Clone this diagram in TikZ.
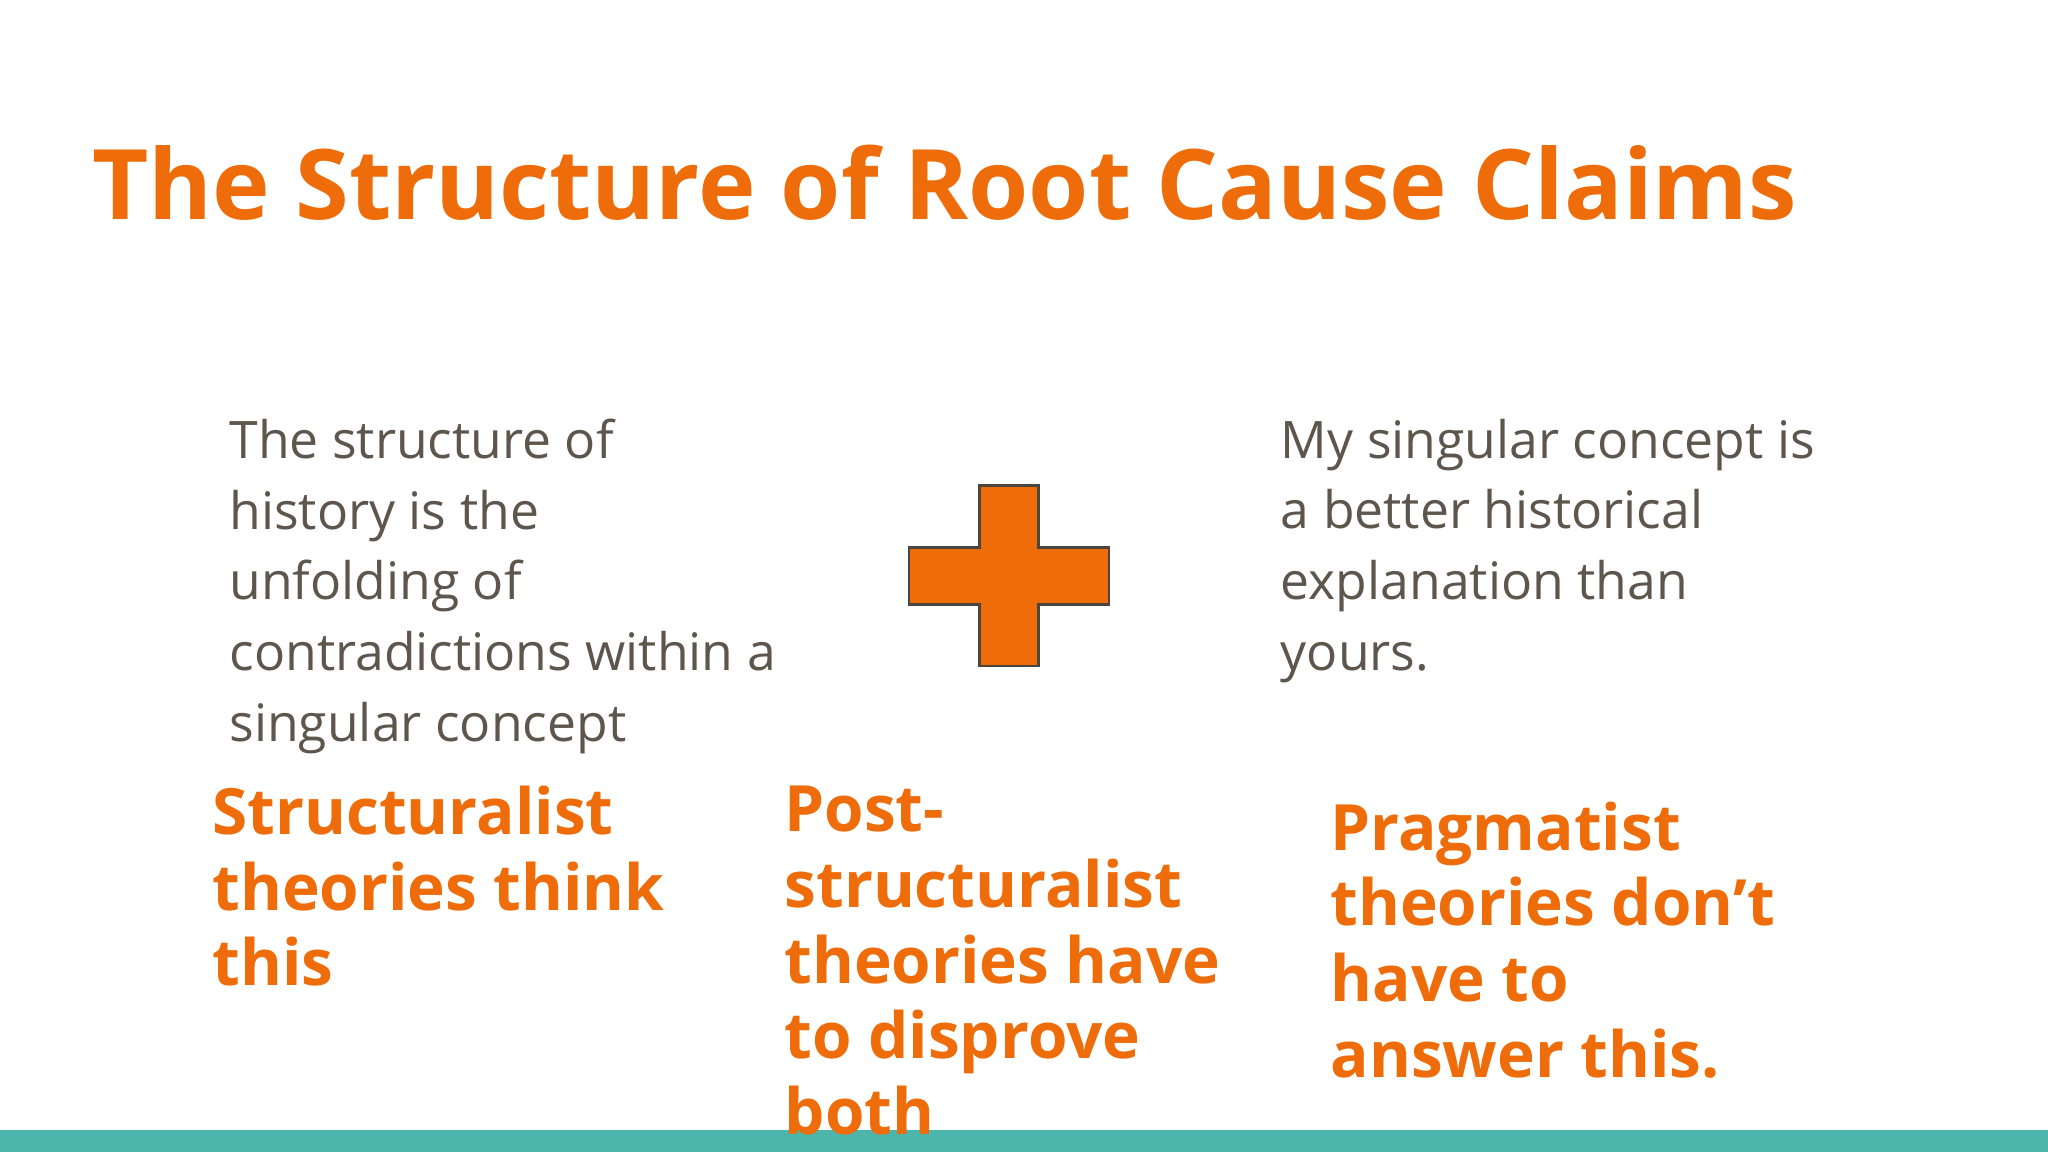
\documentclass[tikz,border=0pt]{standalone}
\usepackage{fontspec}
\setmainfont{Open Sans}
\definecolor{org}{HTML}{EE6C0A}
\definecolor{gtx}{HTML}{5E564C}
\definecolor{teal}{HTML}{4DB6AC}
\begin{document}
\begin{tikzpicture}[x=0.01cm,y=-0.01cm,
  body/.style={anchor=north west,inner sep=0,align=left,text=gtx,font=\fontsize{11.25}{15.4}\selectfont},
  claim/.style={anchor=north west,inner sep=0,align=left,text=org,font=\bfseries\fontsize{13.9}{16.5}\selectfont}]
\useasboundingbox (0,0) rectangle (1568,882);
\fill[teal] (0,865) rectangle (1568,882);
\node[anchor=base west,inner sep=0,text=org,font=\bfseries\fontsize{21.2}{26}\selectfont] (title) at (70,168) {The Structure of Root Cause Claims};
\node[body] (left) at (175,320) {The structure of\\history is the\\unfolding of\\contradictions within a\\singular concept};
\node[body] (right) at (980,320) {My singular concept is\\a better historical\\explanation than\\yours.};
\draw[fill=org,draw=gtx!80!black,line width=0.6pt] (750,372) -- (795,372) -- (795,419) -- (849,419) -- (849,463) -- (795,463) -- (795,510) -- (750,510) -- (750,463) -- (696,463) -- (696,419) -- (750,419) -- cycle;
\node[claim] (s) at (162,601) {Structuralist\\theories think\\this};
\node[claim] (p) at (600,601) {Post-\\structuralist\\theories have\\to disprove\\both};
\node[claim] (g) at (1018,613) {Pragmatist\\theories don’t\\have to\\answer this.};
\end{tikzpicture}
\end{document}
